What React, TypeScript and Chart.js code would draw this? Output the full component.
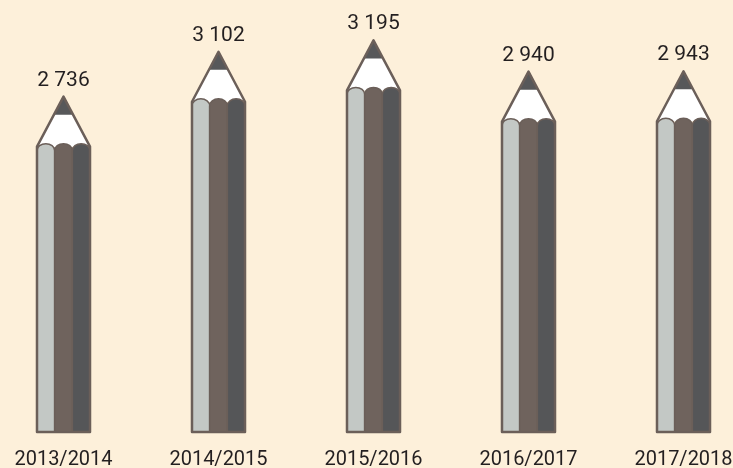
import React, { useEffect, useRef } from "react";
import { Chart, registerables } from "chart.js";

Chart.register(...registerables);

const categories = ["2013/2014", "2014/2015", "2015/2016", "2016/2017", "2017/2018"];
const values = [2736, 3102, 3195, 2940, 2943];
const valueLabels = ["2 736", "3 102", "3 195", "2 940", "2 943"];

const BG = "#fdf0da";
const OUTLINE = "#6b5f59";
const STRIPES = ["#c3c8c5", "#6f635d", "#555658"];
const LEAD = "#57585a";
const TEXT = "#231f20";

const pencilPlugin = {
  id: "pencils",
  beforeDraw(chart: any) {
    const ctx = chart.ctx;
    ctx.save();
    ctx.fillStyle = BG;
    ctx.fillRect(0, 0, chart.width, chart.height);
    ctx.restore();
  },
  afterDatasetsDraw(chart: any) {
    const ctx = chart.ctx;
    const meta = chart.getDatasetMeta(0);
    meta.data.forEach((bar: any, i: number) => {
      const { x: cx, y: apex, base, width: w } = bar.getProps(["x", "y", "base", "width"], true);
      const left = cx - w / 2;
      const right = cx + w / 2;
      const tipH = 48;
      const shoulder = apex + tipH;
      const sw = w / 3;
      ctx.save();
      ctx.lineJoin = "round";
      // wood tip
      ctx.beginPath();
      ctx.moveTo(left, shoulder + 2);
      ctx.lineTo(cx, apex);
      ctx.lineTo(right, shoulder + 2);
      ctx.closePath();
      ctx.fillStyle = "#ffffff";
      ctx.fill();
      // lead
      const leadH = 18;
      const lw = (w / 2) * (leadH / (tipH + 2));
      ctx.beginPath();
      ctx.moveTo(cx, apex);
      ctx.lineTo(cx + lw, apex + leadH);
      ctx.lineTo(cx - lw, apex + leadH);
      ctx.closePath();
      ctx.fillStyle = LEAD;
      ctx.fill();
      // stripes with rounded caps
      const capY = shoulder + 6;
      STRIPES.forEach((c, k) => {
        const x0 = left + k * sw;
        ctx.beginPath();
        ctx.moveTo(x0, base);
        ctx.lineTo(x0, capY);
        ctx.ellipse(x0 + sw / 2, capY, sw / 2, 7, 0, Math.PI, 2 * Math.PI);
        ctx.lineTo(x0 + sw, base);
        ctx.closePath();
        ctx.fillStyle = c;
        ctx.fill();
        ctx.strokeStyle = OUTLINE;
        ctx.lineWidth = 1.5;
        ctx.stroke();
      });
      // outline
      ctx.beginPath();
      ctx.moveTo(left, base);
      ctx.lineTo(left, shoulder + 2);
      ctx.lineTo(cx, apex);
      ctx.lineTo(right, shoulder + 2);
      ctx.lineTo(right, base);
      ctx.closePath();
      ctx.strokeStyle = OUTLINE;
      ctx.lineWidth = 2.5;
      ctx.stroke();
      // value label
      ctx.fillStyle = TEXT;
      ctx.font = "21px Roboto";
      ctx.textAlign = "center";
      ctx.textBaseline = "alphabetic";
      ctx.fillText(valueLabels[i], cx, apex - 11);
      ctx.restore();
    });
  },
};

export default function App() {
  const ref = useRef<HTMLCanvasElement>(null);
  useEffect(() => {
    document.body.style.margin = "0";
    document.body.style.background = BG;
    document.body.style.overflow = "hidden";
    const chart = new Chart(ref.current!, {
      type: "bar",
      data: {
        labels: categories,
        datasets: [
          {
            data: values,
            backgroundColor: "rgba(0,0,0,0)",
            borderWidth: 0,
            categoryPercentage: 1,
            barPercentage: 0.342,
          },
        ],
      },
      options: {
        animation: false,
        responsive: false,
        maintainAspectRatio: false,
        layout: { padding: { top: 3, left: 0, right: 0, bottom: 0 } },
        plugins: { legend: { display: false }, tooltip: { enabled: false } },
        scales: {
          x: {
            grid: { display: false, drawTicks: false },
            border: { display: false },
            ticks: { color: TEXT, font: { family: "Roboto", size: 20 }, padding: 16, maxRotation: 0, autoSkip: false },
          },
          y: { display: false, min: 0, max: 3500 },
        },
      },
      plugins: [pencilPlugin],
    });
    return () => chart.destroy();
  }, []);
  return (
    <div style={{ position: "fixed", left: -14, top: 0, width: 775, height: 488 }}>
      <canvas ref={ref} width={775} height={488} style={{ width: 775, height: 488 }} />
    </div>
  );
}
